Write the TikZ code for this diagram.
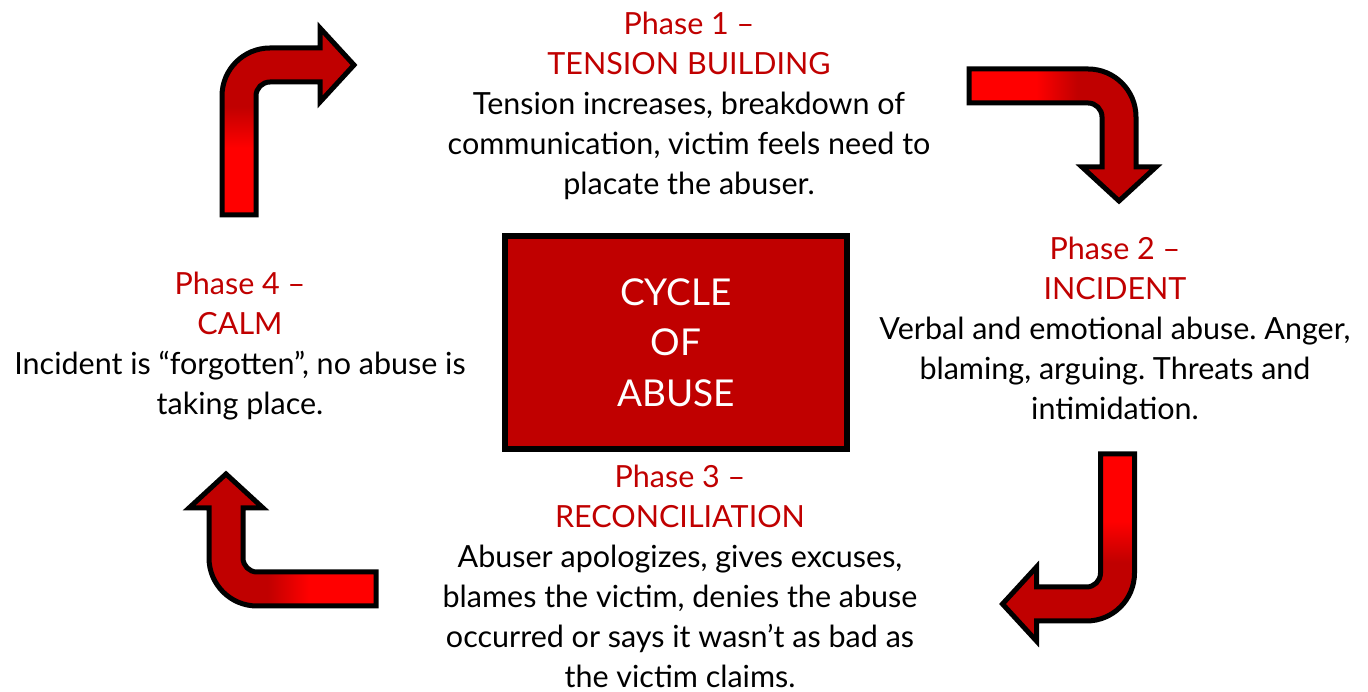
\documentclass[tikz,border=0pt]{standalone}
\usepackage{fontspec}
\setmainfont{Lato}
\frenchspacing
\definecolor{darkred}{HTML}{C00000}
\definecolor{brightred}{HTML}{FF0000}
\pgfdeclareverticalshading{turnshade}{100bp}{color(0bp)=(brightred); color(43bp)=(brightred); color(54bp)=(darkred); color(100bp)=(darkred)}
\newcommand{\phasehead}[1]{\textcolor{darkred}{#1}}
\tikzset{
  phasetext/.style={align=center, anchor=north, inner sep=0pt, font=\fontsize{30.5}{40}\selectfont},
  corebox/.style={draw=black, line width=6pt, fill=darkred, text=white, align=center, inner sep=0pt,
    minimum width=342pt, minimum height=213pt, font=\fontsize{37}{50.5}\selectfont},
  pics/turnarrow/.style={code={
    \shadedraw[shading=turnshade, shading angle=#1, line width=5pt, line join=miter]
      (-17,0) -- (-17,119) arc[start angle=180, end angle=90, radius=48] -- (81,167) -- (81,187)
      -- (115,150) -- (81,113) -- (81,133) -- (31,133) arc[start angle=90, end angle=180, radius=14]
      -- (17,0) -- cycle;
  }}
}
\begin{document}
\begin{tikzpicture}[x=1pt, y=1pt]
\useasboundingbox (0,0) rectangle (1368,692);
\node[corebox] (core) at (676,349.5) {CYCLE\\OF\\ABUSE};
\node[phasetext] (tension) at (689,680) {\phasehead{Phase 1 –}\\\phasehead{TENSION BUILDING}\\Tension increases, breakdown of\\communication, victim feels need to\\placate the abuser.};
\node[phasetext] (incident) at (1115,455) {\phasehead{Phase 2 –}\\\phasehead{INCIDENT}\\Verbal and emotional abuse. Anger,\\blaming, arguing. Threats and\\intimidation.};
\node[phasetext] (reconcile) at (680,227) {\phasehead{Phase 3 –}\\\phasehead{RECONCILIATION}\\Abuser apologizes, gives excuses,\\blames the victim, denies the abuse\\occurred or says it wasn’t as bad as\\the victim claims.};
\node[phasetext] (calm) at (240,420) {\phasehead{Phase 4 –}\\\phasehead{CALM}\\Incident is “forgotten”, no abuse is\\taking place.};
\pic at (239,477) {turnarrow=0};
\pic[rotate=-90] at (969,606) {turnarrow=-90};
\pic[rotate=180] at (1117.5,238) {turnarrow=180};
\pic[rotate=90] at (376,103) {turnarrow=90};
\end{tikzpicture}
\end{document}
